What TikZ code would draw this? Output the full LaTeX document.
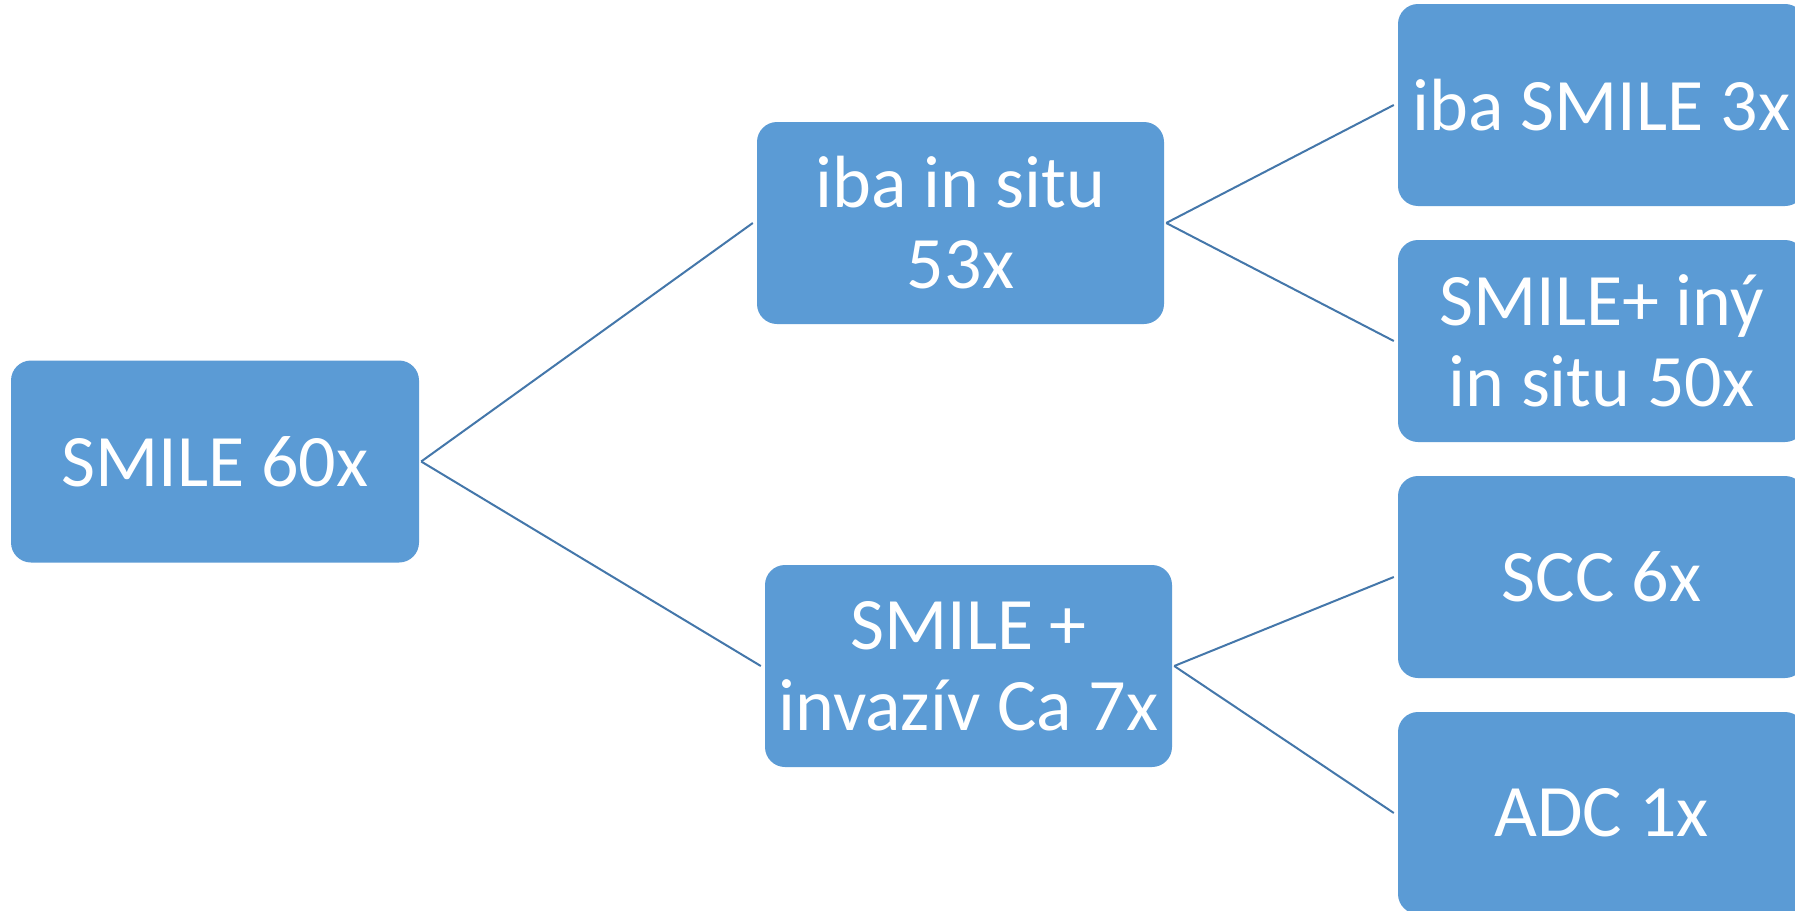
\documentclass[tikz,border=0pt]{standalone}
\usepackage{fontspec}
\setmainfont{Carlito}
\definecolor{boxblue}{HTML}{5B9BD5}
\definecolor{linkblue}{HTML}{4477AA}
\begin{document}
\begin{tikzpicture}[x=1pt,y=-1pt,
  box/.style={rectangle, rounded corners=20pt, fill=boxblue, draw=none,
    minimum width=407pt, minimum height=202pt, inner sep=0pt,
    text=white, align=center, font=\fontsize{74}{81}\selectfont},
  link/.style={draw=linkblue, line width=2pt}]
\useasboundingbox (0,0) rectangle (1795,910);
\clip (0,0) rectangle (1795,910);
\fill[white] (0,0) rectangle (1795,910);
\node[box, minimum width=408pt] (a) at (215,461.5) {SMILE 60x};
\node[box] (b) at (960.5,223) {iba in situ\\53x};
\node[box] (c) at (968.5,666) {SMILE +\\invazív Ca 7x};
\node[box] (d) at (1601.5,105) {iba SMILE 3x};
\node[box] (e) at (1601.5,341) {SMILE+ iný\\in situ 50x};
\node[box] (f) at (1601.5,577) {SCC 6x};
\node[box] (g) at (1601.5,813) {ADC 1x};
\draw[link] ([xshift=2pt]a.east) -- ([xshift=-4pt]b.west);
\draw[link] ([xshift=2pt]a.east) -- ([xshift=-4pt]c.west);
\draw[link] ([xshift=2pt]b.east) -- ([xshift=-4pt]d.west);
\draw[link] ([xshift=2pt]b.east) -- ([xshift=-4pt]e.west);
\draw[link] ([xshift=2pt]c.east) -- ([xshift=-4pt]f.west);
\draw[link] ([xshift=2pt]c.east) -- ([xshift=-4pt]g.west);
\end{tikzpicture}
\end{document}
